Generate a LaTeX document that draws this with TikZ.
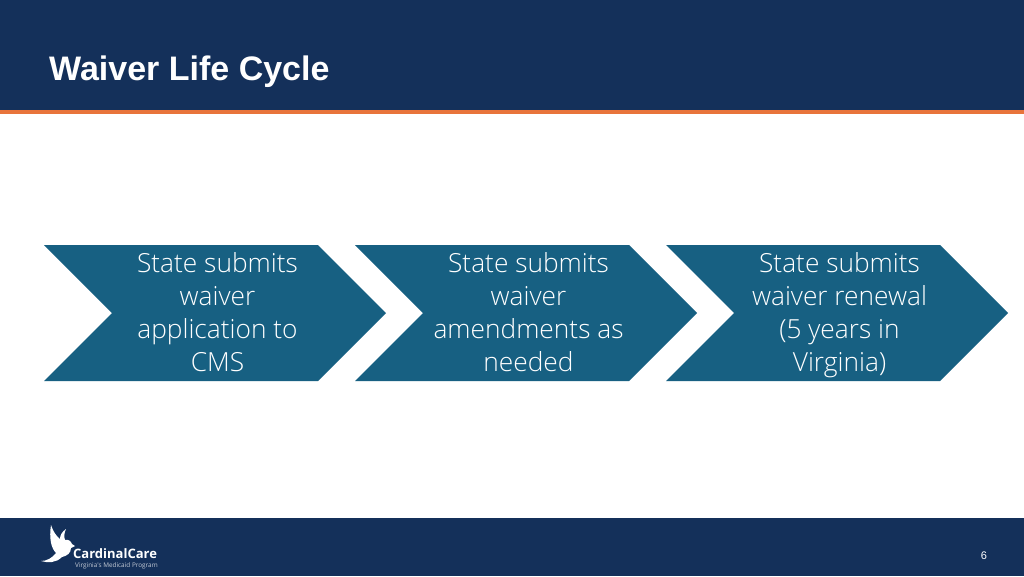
\documentclass[tikz,border=0pt]{standalone}
\usepackage{fontspec}
\setmainfont{Open Sans Light}
\newfontfamily\titlefont{Liberation Sans}
\newfontfamily\logofont{Open Sans}
\definecolor{navyband}{HTML}{14305A}
\definecolor{rustline}{HTML}{E8743B}
\definecolor{tealstep}{HTML}{176082}
\tikzset{
	steptext/.style={text=white,align=center,anchor=north,font=\fontsize{26.3}{33}\selectfont,inner sep=0pt},
	stepfill/.style={fill=tealstep,draw=none},
	bandfill/.style={fill=navyband,draw=none}
}

\begin{document}
\begin{tikzpicture}[x=1pt,y=-1pt]
	\useasboundingbox (0,0) rectangle (1024,576);
	\fill[white] (0,0) rectangle (1024,576);
	\fill[bandfill] (0,0) rectangle (1024,110);
	\fill[rustline] (0,110) rectangle (1024,114);
	\node[text=white,anchor=west,inner sep=0pt,font=\titlefont\bfseries\fontsize{34}{38}\selectfont] (title) at (49,72) {Waiver Life Cycle};
	\fill[stepfill] (44,245) -- (318,245) -- (386,313) -- (318,381) -- (44,381) -- (112,313) -- cycle;
	\node[steptext] (first) at (217.5,252) {State submits\\waiver\\application to\\CMS};
	\fill[stepfill] (355,245) -- (629,245) -- (697,313) -- (629,381) -- (355,381) -- (423,313) -- cycle;
	\node[steptext] (second) at (528.5,252) {State submits\\waiver\\amendments as\\needed};
	\fill[stepfill] (666,245) -- (940,245) -- (1008,313) -- (940,381) -- (666,381) -- (734,313) -- cycle;
	\node[steptext] (third) at (839.5,252) {State submits\\waiver renewal\\(5 years in\\Virginia)};
	\fill[bandfill] (0,518) rectangle (1024,576);
	% logo
	\fill[white] (41,561) .. controls (47,561) and (52,558) .. (56,553) .. controls (51,548) and (49,538) .. (51,525) .. controls (53,531) and (56,536) .. (60,539) .. controls (60,535) and (62,532) .. (66,529) .. controls (64,533) and (64,537) .. (65,540) .. controls (68,539) and (71,541) .. (72,544) -- (75,546) -- (71,548) .. controls (71,553) and (67,556) .. (62,557) .. controls (56,563) and (48,563) .. (41,561) -- cycle;
	\node[text=white,anchor=west,inner sep=0pt,font=\logofont\bfseries\fontsize{13}{15}\selectfont] (brand) at (73,554) {CardinalCare};
	\node[text=white!75!navyband,anchor=west,inner sep=0pt,font=\logofont\fontsize{6.4}{8}\selectfont] (tagline) at (75,565.5) {Virginia's Medicaid Program};
	\node[text=white,inner sep=0pt,font=\titlefont\fontsize{11}{13}\selectfont] (page) at (984,556) {6};
\end{tikzpicture}
\end{document}
